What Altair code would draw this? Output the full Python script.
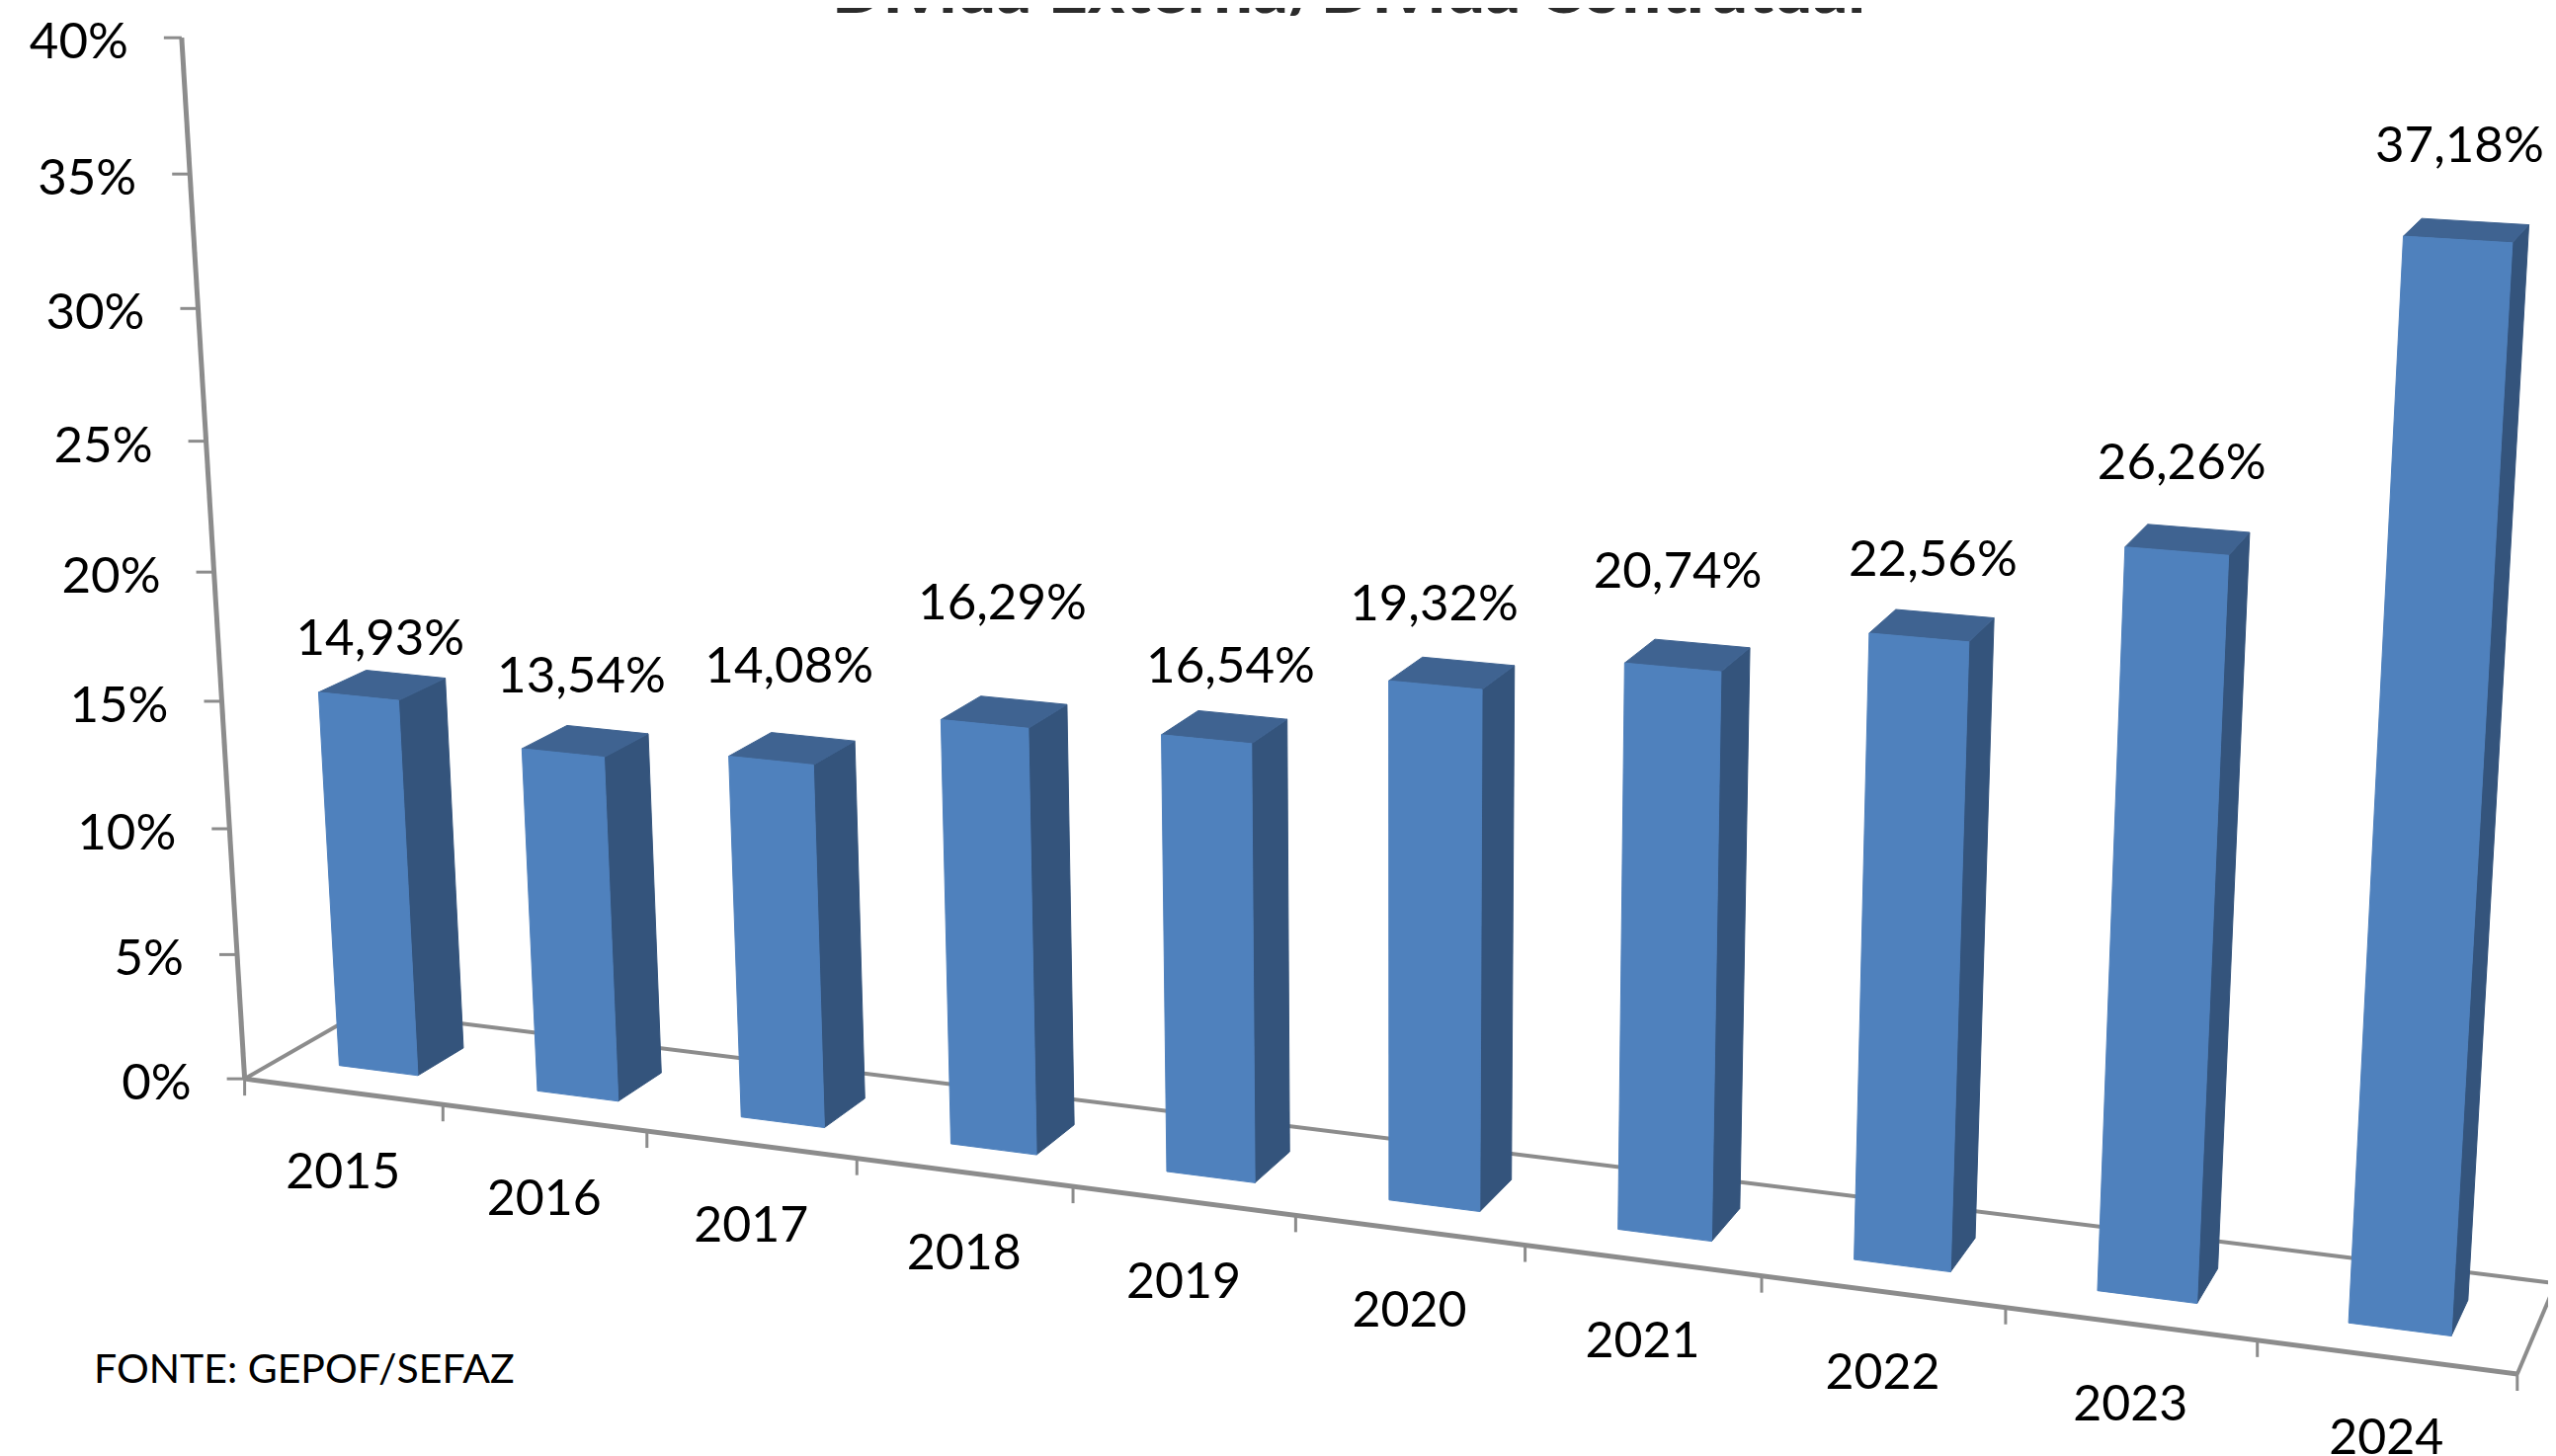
import numpy as np
import pandas as pd
import altair as alt

# ---- chart values ----
YEARS = ["2015", "2016", "2017", "2018", "2019", "2020", "2021", "2022", "2023", "2024"]
VALUES = [14.93, 13.54, 14.08, 16.29, 16.54, 19.32, 20.74, 22.56, 26.26, 37.18]
LABELS = ["14,93%", "13,54%", "14,08%", "16,29%", "16,54%", "19,32%", "20,74%", "22,56%", "26,26%", "37,18%"]
Y_TICKS = [0, 5, 10, 15, 20, 25, 30, 35, 40]
Y_TICK_LABELS = ["0%", "5%", "10%", "15%", "20%", "25%", "30%", "35%", "40%"]
TITLE = "Dívida Externa/Dívida Contratual"
SOURCE = "FONTE: GEPOF/SEFAZ"

# hand-placed data label offsets from the top centre of each bar
LABEL_DX = [-2, -4, -3, -2, 6, -18, -10, 1, -6, -7]
LABEL_DY = [-46, -64, -82, -109, -60, -68, -83, -65, -76, -84]

# ---- perspective camera: world (category, value, depth) -> page pixels ----
HALF = 0.2
Z0, Z1 = 0.3, 0.7
CALIB = [
    ((0, 0, 0), (248.3, 1091.7)), ((10, 0, 0), (2547.3, 1390.7)),
    ((0, 0, 1), (366.2, 1023.0)), ((10, 0, 1), (2586.7, 1300.0)),
    ((0, 40, 0), (184, 38)), ((0, 35, 0), (192, 176.7)),
    ((0, 30, 0), (199.6, 312)), ((0, 5, 0), (239, 965.3)),
    ((1, 0, 0), (448.7, 1120)), ((2, 0, 0), (654.7, 1146.7)), ((9, 0, 0), (2284.3, 1358)),
    ((0.3, 0, Z0), (343.3, 1078.7)), ((0.7, 0, Z0), (423, 1088.3)), ((0.7, 0, Z1), (468.7, 1060.7)),
    ((1.3, 0, Z0), (544, 1104)), ((1.7, 0, Z0), (625.7, 1114.3)), ((1.7, 0, Z1), (669, 1086)),
    ((9.3, 0, Z0), (2377.7, 1339)), ((9.7, 0, Z0), (2481.3, 1352)), ((9.7, 0, Z1), (2498, 1315.7)),
    ((8.7, 0, Z0), (2223.3, 1319)), ((8.7, 0, Z1), (2245, 1284.3)),
    ((0.3, 14.93, Z0), (323.3, 700.7)), ((0.7, 14.93, Z0), (404, 708.9)),
    ((0.7, 14.93, Z1), (450.3, 686.8)), ((0.3, 14.93, Z1), (371, 679)),
    ((1.3, 13.54, Z0), (528.7, 757.9)), ((1.7, 13.54, Z0), (612, 766.4)),
    ((1.7, 13.54, Z1), (655.7, 743.2)), ((1.3, 13.54, Z1), (574.3, 735)),
    ((8.3, 26.26, Z0), (2150.5, 553.3)), ((8.7, 26.26, Z0), (2255.5, 561.3)),
    ((8.7, 26.26, Z1), (2276.9, 539)), ((8.3, 26.26, Z1), (2173.2, 531)),
    ((9.3, 37.18, Z0), (2432.8, 238.7)), ((9.7, 37.18, Z0), (2543, 245.7)),
    ((9.7, 37.18, Z1), (2559.5, 228)), ((9.3, 37.18, Z1), (2451.4, 221.7)),
]
A, b = [], []
for (X, Y, Z), (u, v) in CALIB:
    A.append([X, Y, Z, 1, 0, 0, 0, 0, -u * X, -u * Y, -u * Z]); b.append(u)
    A.append([0, 0, 0, 0, X, Y, Z, 1, -v * X, -v * Y, -v * Z]); b.append(v)
p = np.linalg.lstsq(np.array(A, float), np.array(b, float), rcond=None)[0]


def proj(X, Y, Z):
    w = p[8] * X + p[9] * Y + p[10] * Z + 1
    return (p[0] * X + p[1] * Y + p[2] * Z + p[3]) / w, (p[4] * X + p[5] * Y + p[6] * Z + p[7]) / w


# ---- faces of the bars ----
def face_rows(corners_fn):
    rows = []
    for i, v in enumerate(VALUES):
        for s, (X, Y, Z) in enumerate(corners_fn(i + 0.5, v)):
            px, py = proj(X, Y, Z)
            rows.append({"bar": i, "seq": s, "px": px, "py": py})
    return pd.DataFrame(rows)


front = face_rows(lambda c, v: [(c - HALF, 0, Z0), (c + HALF, 0, Z0), (c + HALF, v, Z0), (c - HALF, v, Z0)])
side = face_rows(lambda c, v: [(c + HALF, 0, Z0), (c + HALF, 0, Z1), (c + HALF, v, Z1), (c + HALF, v, Z0)])
top = face_rows(lambda c, v: [(c - HALF, v, Z0), (c + HALF, v, Z0), (c + HALF, v, Z1), (c - HALF, v, Z1)])

W, H = 2571, 1466
xs = alt.X("px:Q", axis=None, scale=alt.Scale(domain=[8, 8 + W], range=[0, W], nice=False, zero=False))
ys = alt.Y("py:Q", axis=None, scale=alt.Scale(domain=[8, 8 + H], range=[0, H], nice=False, zero=False))


def face(df, color):
    return alt.Chart(df).mark_line(
        interpolate="linear-closed", fill=color, stroke=color, strokeWidth=1
    ).encode(x=xs, y=ys, detail="bar:N", order="seq:Q")


# ---- axis frame ----
GREY = "#8c8c8c"


def seg(a, b2, dx=0, dy=0):
    x1, y1 = proj(*a)
    if b2 is None:
        x2, y2 = x1 + dx, y1 + dy
    else:
        x2, y2 = proj(*b2)
    return {"px": x1, "py": y1, "px2": x2, "py2": y2}


heavy = pd.DataFrame([seg((0, 0, 0), (10, 0, 0)), seg((0, 0, 0), (0, 40, 0))])
light = pd.DataFrame(
    [seg((0, 0, 0), (0, 0, 1)), seg((0, 0, 1), (10, 0, 1)), seg((10, 0, 0), (10, 0, 1))]
)
ticks = pd.DataFrame(
    [seg((0, t, 0), None, dx=-18) for t in Y_TICKS] + [seg((i, 0, 0), None, dy=17) for i in range(11)]
)


def rules(df, width):
    return alt.Chart(df).mark_rule(color=GREY, strokeWidth=width).encode(
        x=xs, y=ys, x2="px2:Q", y2="py2:Q"
    )


# ---- texts ----
FONT = "Lato"
ylab = pd.DataFrame(
    [{"px": proj(0, t, 0)[0] - 54, "py": proj(0, t, 0)[1] + 6, "t": l} for t, l in zip(Y_TICKS, Y_TICK_LABELS)]
)
xlab = pd.DataFrame(
    [{"px": proj(i + 0.5, 0, 0)[0], "py": proj(i + 0.5, 0, 0)[1] + 83, "t": y} for i, y in enumerate(YEARS)]
)
dlab = pd.DataFrame(
    [
        {"px": proj(i + 0.5, v, 0.5)[0] + dx, "py": proj(i + 0.5, v, 0.5)[1] + dy, "t": l}
        for i, (v, l, dx, dy) in enumerate(zip(VALUES, LABELS, LABEL_DX, LABEL_DY))
    ]
)
src = pd.DataFrame([{"px": 95, "py": 1388, "t": SOURCE}])
ttl = pd.DataFrame([{"px": 1365, "py": 13, "t": TITLE}])


def texts(df, size, align="center", baseline="middle", weight="normal", color="#000000"):
    return alt.Chart(df).mark_text(
        font=FONT, fontSize=size, align=align, baseline=baseline, fontWeight=weight, color=color
    ).encode(x=xs, y=ys, text="t:N")


chart = alt.layer(
    rules(light, 4),
    rules(heavy, 5),
    rules(ticks, 3),
    face(side, "#34547c"),
    face(top, "#3f6391"),
    face(front, "#4f81bd"),
    texts(ylab, 51, align="right"),
    texts(xlab, 50),
    texts(dlab, 51),
    texts(src, 41, align="left"),
    texts(ttl, 70, baseline="alphabetic", weight=900, color="#2b2b2b"),
).properties(
    width=W, height=H, padding=0, autosize=alt.AutoSizeParams(type="none"), background="white"
).configure_view(stroke=None)

chart.save("out.html", embed_options={"renderer": "svg", "actions": False})
